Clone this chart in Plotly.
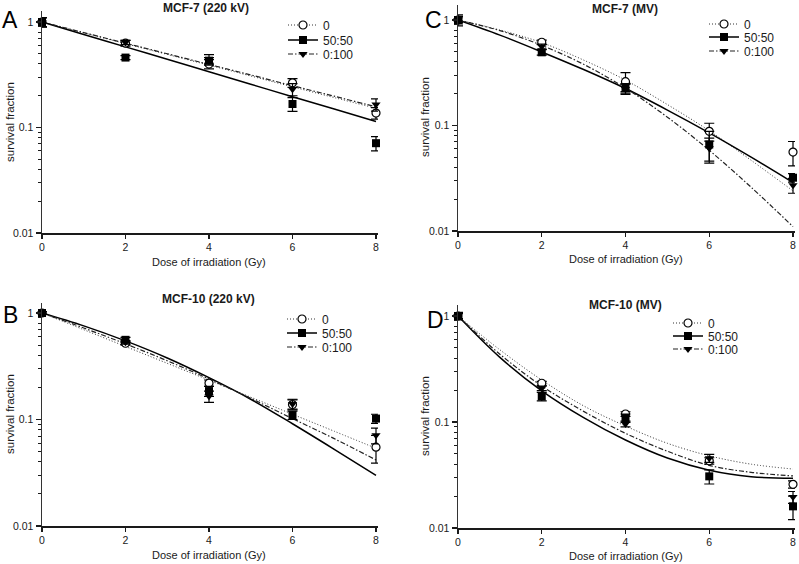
import plotly.graph_objects as go

# ---------------- data ----------------
DOSE = [0, 2, 4, 6, 8]
FIT_DOSE = [0, 1, 2, 3, 4, 5, 6, 7, 8]
GROUPS = ["0", "50:50", "0:100"]
X_TICKS = [0, 2, 4, 6, 8]
Y_TICKS = [0.01, 0.1, 1]
Y_TICK_TEXT = ["0.01", "0.1", "1"]
X_TITLE = "Dose of irradiation (Gy)"
Y_TITLE = "survival fraction"

# A  MCF-7 (220 kV)
A_TITLE = "MCF-7 (220 kV)"
A_SF_0 = [1.0, 0.63, 0.40, 0.265, 0.137]
A_SF_5050 = [1.0, 0.46, 0.43, 0.167, 0.071]
A_SF_0100 = [1.0, 0.64, 0.44, 0.23, 0.165]
A_ERR_0 = [0.1, 0.04, 0.04, 0.025, 0.017]
A_ERR_5050 = [0.1, 0.02, 0.03, 0.025, 0.011]
A_ERR_0100 = [0.1, 0.03, 0.05, 0.03, 0.022]
A_FIT_0 = [1, 0.790, 0.624, 0.493, 0.390, 0.308, 0.243, 0.192, 0.152]
A_FIT_5050 = [1, 0.762, 0.581, 0.443, 0.338, 0.257, 0.196, 0.150, 0.114]
A_FIT_0100 = [1, 0.793, 0.630, 0.500, 0.396, 0.315, 0.249, 0.198, 0.157]

# B  MCF-10 (220 kV)
B_TITLE = "MCF-10 (220 kV)"
B_SF_0 = [1.0, 0.52, 0.22, 0.138, 0.055]
B_SF_5050 = [1.0, 0.56, 0.185, 0.11, 0.102]
B_SF_0100 = [1.0, 0.53, 0.165, 0.14, 0.071]
B_ERR_0 = [0.03, 0.02, 0.015, 0.015, 0.016]
B_ERR_5050 = [0.03, 0.03, 0.02, 0.01, 0.01]
B_ERR_0100 = [0.03, 0.02, 0.02, 0.015, 0.012]
B_FIT_0 = [1, 0.697, 0.485, 0.337, 0.234, 0.162, 0.112, 0.0776, 0.0537]
B_FIT_5050 = [1, 0.757, 0.547, 0.378, 0.247, 0.155, 0.0912, 0.0525, 0.0299]
B_FIT_0100 = [1, 0.723, 0.513, 0.356, 0.240, 0.158, 0.102, 0.0661, 0.0417]

# C  MCF-7 (MV)
C_TITLE = "MCF-7 (MV)"
C_SF_0 = [1.0, 0.615, 0.26, 0.088, 0.056]
C_SF_5050 = [1.0, 0.494, 0.229, 0.066, 0.032]
C_SF_0100 = [1.0, 0.56, 0.222, 0.061, 0.0272]
C_ERR_0 = [0.12, 0.03, 0.057, 0.017, 0.0145]
C_ERR_5050 = [0.08, 0.03, 0.02, 0.022, 0.003]
C_ERR_0100 = [0.05, 0.03, 0.025, 0.015, 0.0044]
C_FIT_0 = [1, 0.804, 0.610, 0.417, 0.269, 0.158, 0.0891, 0.0468, 0.0240]
C_FIT_5050 = [1, 0.719, 0.498, 0.339, 0.224, 0.140, 0.0851, 0.0501, 0.0288]
C_FIT_0100 = [1, 0.794, 0.575, 0.380, 0.226, 0.120, 0.0582, 0.0260, 0.0110]

# D  MCF-10 (MV)
D_TITLE = "MCF-10 (MV)"
D_SF_0 = [1.0, 0.232, 0.119, 0.043, 0.0258]
D_SF_5050 = [1.0, 0.174, 0.109, 0.0307, 0.016]
D_SF_0100 = [1.0, 0.208, 0.096, 0.0456, 0.0196]
D_ERR_0 = [0.08, 0.01, 0.006, 0.003, 0.002]
D_ERR_5050 = [0.06, 0.016, 0.01, 0.0047, 0.004]
D_ERR_0100 = [0.05, 0.01, 0.006, 0.004, 0.0025]
D_FIT_0 = [1, 0.48, 0.249, 0.142, 0.0916, 0.063, 0.048, 0.040, 0.036]
D_FIT_5050 = [1, 0.407, 0.197, 0.110, 0.0676, 0.0457, 0.0351, 0.0305, 0.0295]
D_FIT_0100 = [1, 0.436, 0.219, 0.126, 0.0782, 0.053, 0.039, 0.0335, 0.031]

# ---------------- styling / geometry ----------------
W, H = 799, 564
FONT = "Liberation Sans, Arial, sans-serif"
INK = "#1a1a1a"

STYLE = {
    "0": dict(marker=dict(symbol="circle", size=8, color="white", line=dict(color="black", width=1.2)),
              line=dict(color="#333333", width=1, dash="1px,2px")),
    "50:50": dict(marker=dict(symbol="square", size=8, color="black", line=dict(color="black", width=0)),
                  line=dict(color="black", width=1.5)),
    "0:100": dict(marker=dict(symbol="triangle-down", size=8, color="black", line=dict(color="black", width=0)),
                  line=dict(color="#222222", width=1.2, dash="5px,2px,1.5px,2px")),
}

PANELS = [
    dict(letter="A", title=A_TITLE, sf=[A_SF_0, A_SF_5050, A_SF_0100], err=[A_ERR_0, A_ERR_5050, A_ERR_0100],
         fit=[A_FIT_0, A_FIT_5050, A_FIT_0100], ax="", x0=42, x8=376, y1=22, y001=233, ytop=11,
         title_xy=(206, 8), letter_xy=(10, 20), xt_xy=(209, 262), yt_xy=(10, 122),
         leg_x=283, leg_rows=[25, 40, 54]),
    dict(letter="C", title=C_TITLE, sf=[C_SF_0, C_SF_5050, C_SF_0100], err=[C_ERR_0, C_ERR_5050, C_ERR_0100],
         fit=[C_FIT_0, C_FIT_5050, C_FIT_0100], ax="2", x0=458, x8=793, y1=20, y001=231, ytop=5,
         title_xy=(625, 9), letter_xy=(433, 20), xt_xy=(626, 259), yt_xy=(425, 117),
         leg_x=704, leg_rows=[24, 37, 51]),
    dict(letter="B", title=B_TITLE, sf=[B_SF_0, B_SF_5050, B_SF_0100], err=[B_ERR_0, B_ERR_5050, B_ERR_0100],
         fit=[B_FIT_0, B_FIT_5050, B_FIT_0100], ax="3", x0=42, x8=376, y1=313, y001=526, ytop=303,
         title_xy=(208, 299), letter_xy=(10, 315), xt_xy=(209, 555), yt_xy=(10, 414),
         leg_x=282, leg_rows=[319, 333, 347]),
    dict(letter="D", title=D_TITLE, sf=[D_SF_0, D_SF_5050, D_SF_0100], err=[D_ERR_0, D_ERR_5050, D_ERR_0100],
         fit=[D_FIT_0, D_FIT_5050, D_FIT_0100], ax="4", x0=458, x8=793, y1=316, y001=528, ytop=305,
         title_xy=(625, 305), letter_xy=(435, 320), xt_xy=(626, 556), yt_xy=(425, 416),
         leg_x=668, leg_rows=[323, 336, 349]),
]
XMAX = 8.05

fig = go.Figure()
layout = dict(width=W, height=H, margin=dict(l=0, r=0, t=0, b=0, pad=0, autoexpand=False),
              paper_bgcolor="white", plot_bgcolor="white", showlegend=True,
              font=dict(family=FONT, size=11, color=INK))
annotations = []

minor_vals = [m * 10 ** e for e in (-2, -1) for m in range(2, 10)]

leg_n = 0
for p in PANELS:
    xname, yname = "x" + p["ax"], "y" + p["ax"]
    xkey, ykey = "xaxis" + p["ax"], "yaxis" + p["ax"]
    right = p["x0"] + (p["x8"] - p["x0"]) * XMAX / 8
    dec = (p["y001"] - p["y1"]) / 2
    top_log = (p["y001"] - p["ytop"]) / dec - 2
    layout[xkey] = dict(domain=[p["x0"] / W, right / W], anchor=yname, range=[0, XMAX], automargin=False,
                        tickmode="array", tickvals=X_TICKS, ticks="outside", ticklen=4, tickwidth=1.2,
                        tickcolor=INK, showline=True, linecolor=INK, linewidth=1.5,
                        showgrid=False, zeroline=False, tickfont=dict(size=10.5, family=FONT, color=INK))
    layout[ykey] = dict(domain=[1 - p["y001"] / H, 1 - p["ytop"] / H], anchor=xname, type="log",
                        range=[-2, top_log], tickmode="array", tickvals=Y_TICKS, ticktext=Y_TICK_TEXT,
                        automargin=False,
                        ticks="outside", ticklen=5, tickwidth=1.2, tickcolor=INK,
                        showline=True, linecolor="#333333", linewidth=1.5, showgrid=False, zeroline=False,
                        tickfont=dict(size=10.5, family=FONT, color=INK),
                        minor=dict(tickmode="array", tickvals=minor_vals, ticks="outside", ticklen=3,
                                   tickwidth=1, tickcolor=INK, showgrid=False))

    # fitted curves
    for g, fit in zip(GROUPS, p["fit"]):
        fig.add_trace(go.Scatter(x=FIT_DOSE, y=fit, mode="lines", line=dict(**STYLE[g]["line"], shape="spline", smoothing=1),
                                 xaxis=xname, yaxis=yname, showlegend=False, hoverinfo="skip"))
    # data points with error bars
    for g, sf, er in zip(GROUPS, p["sf"], p["err"]):
        fig.add_trace(go.Scatter(x=DOSE, y=sf, mode="markers", marker=STYLE[g]["marker"],
                                 error_y=dict(type="data", array=er, visible=True, color="black",
                                              thickness=1.2, width=5),
                                 cliponaxis=False, xaxis=xname, yaxis=yname, showlegend=False, name=g))
    # legend entries (one legend per row)
    for g, ly in zip(GROUPS, p["leg_rows"]):
        leg_n += 1
        lname = "legend" if leg_n == 1 else f"legend{leg_n}"
        fig.add_trace(go.Scatter(x=[None], y=[None], mode="lines+markers", name=g,
                                 line=STYLE[g]["line"], marker=STYLE[g]["marker"],
                                 xaxis=xname, yaxis=yname, showlegend=True, legend=lname))
        layout[lname] = dict(x=p["leg_x"] / W, y=1 - ly / H, xanchor="left", yanchor="middle",
                             bgcolor="rgba(0,0,0,0)", borderwidth=0, itemwidth=30,
                             font=dict(size=12, family=FONT, color=INK), itemclick=False,
                             itemdoubleclick=False)

    tx, ty = p["title_xy"]
    annotations.append(dict(text="<b>" + p["title"] + "</b>", x=tx / W, y=1 - ty / H, xref="paper", yref="paper",
                            showarrow=False, xanchor="center", yanchor="middle",
                            font=dict(size=12, family=FONT, color=INK)))
    lx, lyy = p["letter_xy"]
    annotations.append(dict(text=p["letter"], x=lx / W, y=1 - lyy / H, xref="paper", yref="paper",
                            showarrow=False, xanchor="center", yanchor="middle",
                            font=dict(size=23, family=FONT, color="black")))
    xx, xy = p["xt_xy"]
    annotations.append(dict(text=X_TITLE, x=xx / W, y=1 - xy / H, xref="paper", yref="paper",
                            showarrow=False, xanchor="center", yanchor="middle",
                            font=dict(size=11, family=FONT, color=INK)))
    yx, yy = p["yt_xy"]
    annotations.append(dict(text=Y_TITLE, x=yx / W, y=1 - yy / H, xref="paper", yref="paper",
                            showarrow=False, xanchor="center", yanchor="middle", textangle=-90,
                            font=dict(size=11.5, family=FONT, color=INK)))

layout["annotations"] = annotations
fig.update_layout(**layout)
fig.write_html("out.html", config={"displayModeBar": False, "staticPlot": True},
               post_script="document.body.style.margin='0';document.body.style.padding='0';"
                           "document.body.style.overflow='hidden';")
